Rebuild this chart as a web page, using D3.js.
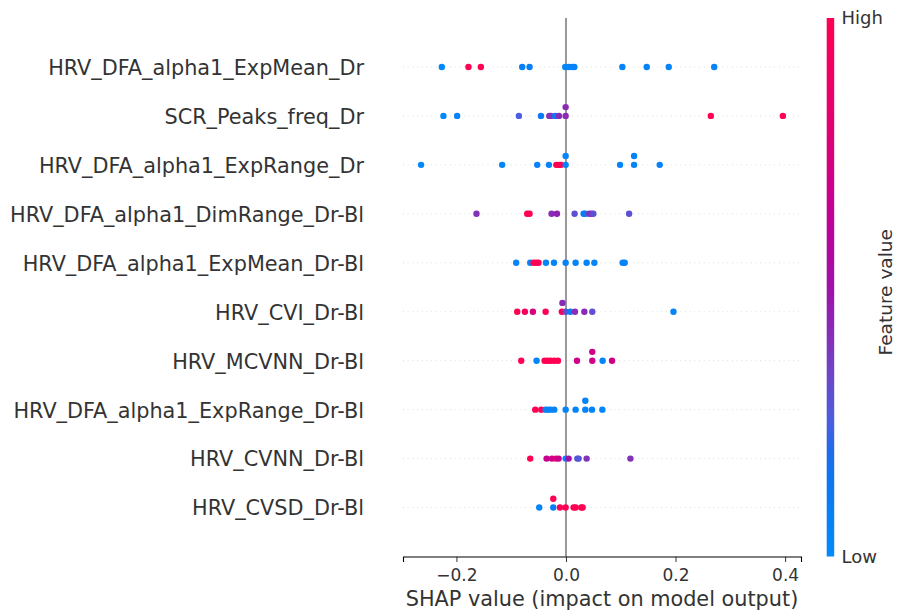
<!DOCTYPE html>
<html>
<head>
<meta charset="utf-8">
<script src="https://cdn.jsdelivr.net/npm/d3@7"></script>
<style>
  body { margin: 0; background: #fff; }
  text { font-family: "DejaVu Sans", sans-serif; fill: #333; }
</style>
</head>
<body>
<script>
// features, top (most important) to bottom
var features = [
  "HRV_DFA_alpha1_ExpMean_Dr",
  "SCR_Peaks_freq_Dr",
  "HRV_DFA_alpha1_ExpRange_Dr",
  "HRV_DFA_alpha1_DimRange_Dr-Bl",
  "HRV_DFA_alpha1_ExpMean_Dr-Bl",
  "HRV_CVI_Dr-Bl",
  "HRV_MCVNN_Dr-Bl",
  "HRV_DFA_alpha1_ExpRange_Dr-Bl",
  "HRV_CVNN_Dr-Bl",
  "HRV_CVSD_Dr-Bl"
];

// SHAP values per feature
var shapValues = [
  [-0.2267, -0.178, -0.1554, -0.0799, -0.0665, -0.0013, 0.0048, 0.011, 0.0152, 0.1029, 0.1474, 0.1876, 0.2706],
  [-0.2237, -0.1987, -0.086, -0.0457, -0.0305, -0.0274, -0.0196, -0.0128, -0.0006, -0.0006, 0.2644, 0.396],
  [-0.2645, -0.1165, -0.0525, -0.0311, -0.0177, -0.0128, -0.0091, -0.0006, -0.0006, 0.0987, 0.1243, 0.1243, 0.1711],
  [-0.1634, -0.0708, -0.0665, -0.0263, -0.0165, 0.0157, 0.0322, 0.0353, 0.0426, 0.0463, 0.0499, 0.1152],
  [-0.0909, -0.0653, -0.0592, -0.0543, -0.0501, -0.0366, -0.0219, -0.0006, 0.0176, 0.0377, 0.0518, 0.1035, 0.1072],
  [-0.089, -0.075, -0.0604, -0.0372, -0.0075, -0.0065, -0.0006, 0.0079, 0.0164, 0.0335, 0.048, 0.1962],
  [-0.0817, -0.0537, -0.0391, -0.0336, -0.0281, -0.0214, -0.0146, 0.0201, 0.048, 0.048, 0.0669, 0.0841],
  [-0.0561, -0.0452, -0.0372, -0.0324, -0.0281, -0.0214, -0.0006, 0.0176, 0.0353, 0.0353, 0.0475, 0.0664],
  [-0.0653, -0.0354, -0.0256, -0.0183, -0.0134, -0.0006, 0.0048, 0.0207, 0.0231, 0.0377, 0.1176],
  [-0.0488, -0.0232, -0.0232, -0.011, -0.0006, 0.0139, 0.0176, 0.028, 0.0304]
];

// normalised feature values (0 = low, 1 = high)
var featureValues = [
  [0.02, 1, 1, 0.08, 0.08, 0.05, 0.05, 0.05, 0.05, 0.05, 0.05, 0.05, 0.05],
  [0.02, 0.05, 0.25, 0.1, 0.4, 0.4, 0.12, 0.42, 0.42, 0.42, 1, 1],
  [0.02, 0.05, 0.05, 0.05, 1, 1, 1, 0.05, 0.05, 0.05, 0.05, 0.05, 0.05],
  [0.4, 1, 1, 0.42, 0.45, 0.3, 0.1, 0.1, 0.4, 0.4, 0.3, 0.3],
  [0.05, 0.05, 1, 1, 1, 0.05, 0.05, 0.05, 0.05, 0.05, 0.05, 0.05, 0.05],
  [1, 0.95, 0.75, 1, 1, 0.42, 0.3, 0.1, 0.42, 0.42, 0.3, 0.05],
  [1, 0.05, 1, 1, 1, 1, 1, 0.7, 0.7, 0.7, 0.05, 0.7],
  [1, 1, 0.05, 0.05, 0.05, 0.05, 0.05, 0.05, 0.05, 0.05, 0.05, 0.05],
  [1, 0.68, 0.68, 0.82, 0.68, 0.05, 0.5, 0.28, 0.28, 0.4, 0.4],
  [0.05, 0.08, 1, 1, 1, 1, 1, 1, 1]
];

var xTicks = [-0.2, 0.0, 0.2, 0.4];

var width = 898, height = 610;
var plot = {left: 403, right: 801, top: 18, bottom: 556.5};
var rowHeight = 0.4;

// shap red_blue colormap
var cmap = d3.scaleLinear()
  .domain([0, 0.18, 0.25, 0.37, 0.5, 0.63, 0.81, 1])
  .range(["#008bfb", "#1070f0", "#4a5ee0", "#7a3cc0", "#a010a8", "#c00098", "#e40070", "#ff0052"])
  .interpolate(d3.interpolateRgb);

var svg = d3.select("body")
  .append("svg")
  .attr("width", width)
  .attr("height", height);

// x scale with 5% margin like matplotlib
var all = d3.merge(shapValues);
var ext = d3.extent(all);
var pad = (ext[1] - ext[0]) * 0.05;
var x = d3.scaleLinear()
  .domain([ext[0] - pad, ext[1] + pad])
  .range([plot.left, plot.right]);

var n = features.length;
var y = d3.scaleLinear()
  .domain([-1, n])
  .range([plot.bottom, plot.top]);

// beeswarm offsets (same binning as shap)
function swarm(vals) {
  var nbins = 100;
  var lo = d3.min(vals), hi = d3.max(vals);
  var quant = vals.map(function(v) { return Math.round(nbins * (v - lo) / (hi - lo + 1e-8)); });
  var inds = d3.range(vals.length).sort(function(a, b) { return quant[a] - quant[b] || a - b; });
  var layer = 0, last = -1;
  var ys = vals.map(function() { return 0; });
  inds.forEach(function(i) {
    if (quant[i] !== last) layer = 0;
    ys[i] = Math.ceil(layer / 2) * ((layer % 2) * 2 - 1);
    layer++;
    last = quant[i];
  });
  var m = d3.max(ys, function(v) { return v + 1; });
  return ys.map(function(v) { return v * 0.9 * (rowHeight / m); });
}

//dotted row lines
svg.selectAll("line.row")
  .data(features)
  .enter()
  .append("line")
  .attr("class", "row")
  .attr("x1", plot.left)
  .attr("x2", plot.right)
  .attr("y1", function(d, i) { return y(n - 1 - i); })
  .attr("y2", function(d, i) { return y(n - 1 - i); })
  .attr("stroke", "#cccccc")
  .attr("stroke-width", 0.8)
  .attr("stroke-dasharray", "0.8,3.9");

//zero line
svg.append("line")
  .attr("x1", x(0)).attr("x2", x(0))
  .attr("y1", plot.top).attr("y2", plot.bottom)
  .attr("stroke", "#999999")
  .attr("stroke-width", 2);

//points
var points = [];
shapValues.forEach(function(vals, i) {
  var off = swarm(vals);
  vals.forEach(function(v, j) {
    points.push({row: n - 1 - i, shap: v, fv: featureValues[i][j], off: off[j]});
  });
});

svg.selectAll("circle")
  .data(points)
  .enter()
  .append("circle")
  .attr("cx", function(d) { return x(d.shap); })
  .attr("cy", function(d) { return y(d.row + d.off); })
  .attr("r", 3.2)
  .attr("fill", function(d) { return cmap(d.fv); });

//feature labels
svg.selectAll("text.feat")
  .data(features)
  .enter()
  .append("text")
  .attr("class", "feat")
  .attr("x", 364)
  .attr("y", function(d, i) { return y(n - 1 - i); })
  .attr("dy", "0.38em")
  .attr("text-anchor", "end")
  .style("font-size", "20.8px")
  .text(function(d) { return d; });

//x axis
var xAxis = d3.axisBottom(x)
  .tickValues(xTicks)
  .tickFormat(d3.format(".1f"))
  .tickSize(5.5)
  .tickPadding(7);

var gx = svg.append("g")
  .attr("transform", "translate(0," + plot.bottom + ")")
  .call(xAxis);
gx.select(".domain").attr("stroke", "#000").attr("stroke-width", 1.1);
gx.selectAll(".tick line").attr("stroke", "#333");
gx.selectAll(".tick text")
  .style("font-size", "17px")
  .style("font-family", "DejaVu Sans")
  .attr("fill", "#333");

svg.append("text")
  .attr("x", (plot.left + plot.right) / 2)
  .attr("y", 606)
  .attr("text-anchor", "middle")
  .style("font-size", "20.8px")
  .text("SHAP value (impact on model output)");

//colorbar
var grad = svg.append("defs")
  .append("linearGradient")
  .attr("id", "cbar")
  .attr("x1", 0).attr("y1", 1)
  .attr("x2", 0).attr("y2", 0);
grad.selectAll("stop")
  .data(d3.range(0, 1.001, 0.05))
  .enter()
  .append("stop")
  .attr("offset", function(d) { return d; })
  .attr("stop-color", function(d) { return cmap(d); });

svg.append("rect")
  .attr("x", 826.7)
  .attr("y", plot.top)
  .attr("width", 7.5)
  .attr("height", plot.bottom - plot.top)
  .attr("fill", "url(#cbar)");

svg.append("text")
  .attr("x", 841.5)
  .attr("y", plot.top)
  .attr("dy", "0.36em")
  .style("font-size", "18px")
  .text("High");

svg.append("text")
  .attr("x", 841.5)
  .attr("y", plot.bottom)
  .attr("dy", "0.36em")
  .style("font-size", "18px")
  .text("Low");

svg.append("text")
  .attr("transform", "translate(892," + ((plot.top + plot.bottom) / 2 + 5) + ") rotate(-90)")
  .attr("text-anchor", "middle")
  .style("font-size", "18.5px")
  .text("Feature value");
</script>
</body>
</html>
